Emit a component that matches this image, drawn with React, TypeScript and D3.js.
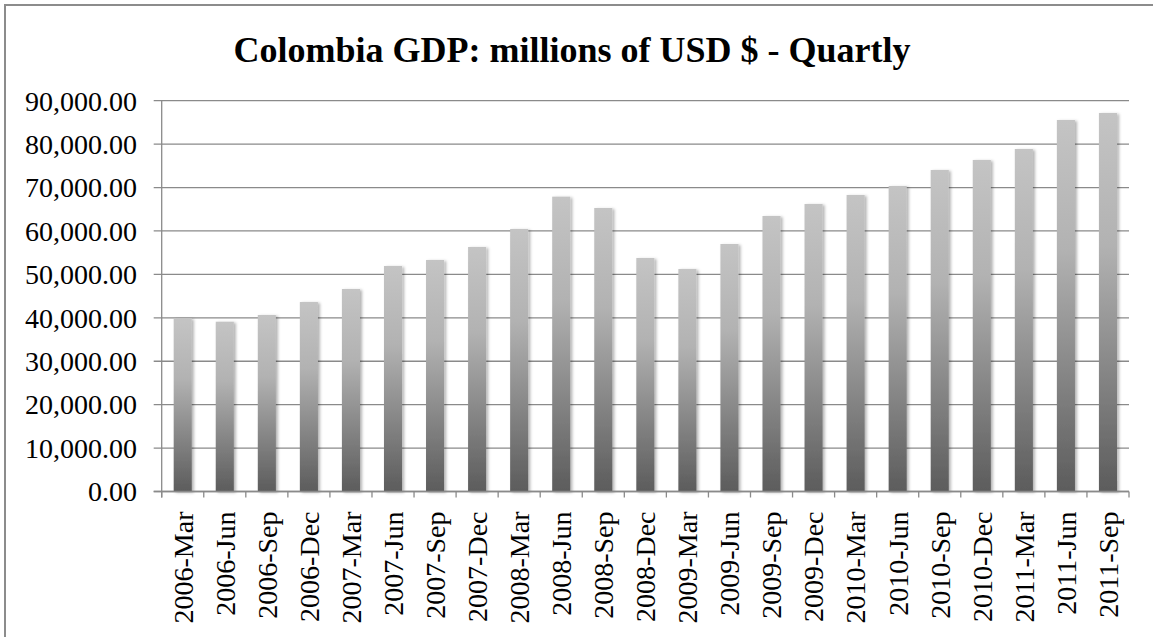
import React from "react";
import * as d3 from "d3";

const categories: string[] = [
  "2006-Mar", "2006-Jun", "2006-Sep", "2006-Dec",
  "2007-Mar", "2007-Jun", "2007-Sep", "2007-Dec",
  "2008-Mar", "2008-Jun", "2008-Sep", "2008-Dec",
  "2009-Mar", "2009-Jun", "2009-Sep", "2009-Dec",
  "2010-Mar", "2010-Jun", "2010-Sep", "2010-Dec",
  "2011-Mar", "2011-Jun", "2011-Sep",
];

const gdpValues: number[] = [
  39900, 39100, 40650, 43640,
  46640, 51930, 53320, 56310,
  60460, 67900, 65290, 53780,
  51240, 57000, 63450, 66210,
  68290, 70360, 74040, 76350,
  78880, 85560, 87170,
];

const yTicks: number[] = [0, 10000, 20000, 30000, 40000, 50000, 60000, 70000, 80000, 90000];

const title = "Colombia GDP: millions of USD $ - Quartly";

const W = 1153;
const H = 637;
const plotLeft = 161.7;
const plotRight = 1129;
const plotTop = 100.7;
const plotBottom = 491.5;
const FONT = "'Liberation Serif', 'Times New Roman', serif";

export default function App() {
  const x = d3
    .scaleBand<string>()
    .domain(categories)
    .range([plotLeft, plotRight])
    .paddingInner(0.57)
    .paddingOuter(0.285);
  const y = d3.scaleLinear().domain([0, 90000]).range([plotBottom, plotTop]);
  const fmt = d3.format(",.2f");
  const step = x.step();
  const boundaries = d3.range(categories.length + 1).map((i) => plotLeft + i * step);
  const gridColor = "#8a8a8a";

  return (
    <div style={{ position: "absolute", left: 0, top: 0 }}>
      <svg width={W} height={H} style={{ display: "block", background: "#fff" }}>
        <defs>
          <linearGradient id="barGrad" x1="0" y1="0" x2="0" y2="1">
            <stop offset="0" stopColor="#c4c4c4" />
            <stop offset="0.35" stopColor="#b2b2b2" />
            <stop offset="1" stopColor="#5c5c5c" />
          </linearGradient>
          <filter id="shadow" x="-50%" y="-10%" width="200%" height="120%">
            <feDropShadow dx="2" dy="1" stdDeviation="1.6" floodColor="#000" floodOpacity="0.3" />
          </filter>
        </defs>
        <rect x={5} y={5} width={W + 10} height={H + 10} fill="#fff" stroke="#8c8c8c" strokeWidth={2} />
        <text
          x={572}
          y={62}
          textAnchor="middle"
          fontFamily={FONT}
          fontWeight="bold"
          fontSize={36}
          fill="#000"
        >
          {title}
        </text>
        {yTicks.map((t) => (
          <line
            key={"g" + t}
            x1={plotLeft - 8}
            x2={plotRight}
            y1={y(t)}
            y2={y(t)}
            stroke={gridColor}
            strokeWidth={1.3}
          />
        ))}
        {yTicks.map((t) => (
          <text
            key={"yl" + t}
            x={137}
            y={y(t)}
            dy="0.35em"
            textAnchor="end"
            fontFamily={FONT}
            fontSize={28}
            fill="#000"
          >
            {fmt(t)}
          </text>
        ))}
        {categories.map((c, i) => (
          <rect
            key={"b" + c}
            x={x(c)}
            y={y(gdpValues[i])}
            width={x.bandwidth()}
            height={y(0) - y(gdpValues[i])}
            fill="url(#barGrad)"
            filter="url(#shadow)"
          />
        ))}
        <line x1={plotLeft} x2={plotLeft} y1={plotTop} y2={plotBottom + 6} stroke={gridColor} strokeWidth={1.3} />
        <line x1={plotLeft - 8} x2={plotRight} y1={plotBottom} y2={plotBottom} stroke={gridColor} strokeWidth={1.3} />
        {boundaries.map((bx, i) => (
          <line key={"xt" + i} x1={bx} x2={bx} y1={plotBottom} y2={plotBottom + 6} stroke={gridColor} strokeWidth={1.3} />
        ))}
        {categories.map((c) => {
          const cx = (x(c) as number) + x.bandwidth() / 2;
          return (
            <text
              key={"xl" + c}
              transform={`translate(${cx},${plotBottom + 20}) rotate(-90)`}
              dy="0.35em"
              textAnchor="end"
              fontFamily={FONT}
              fontSize={28}
              fill="#000"
            >
              {c}
            </text>
          );
        })}
      </svg>
    </div>
  );
}
